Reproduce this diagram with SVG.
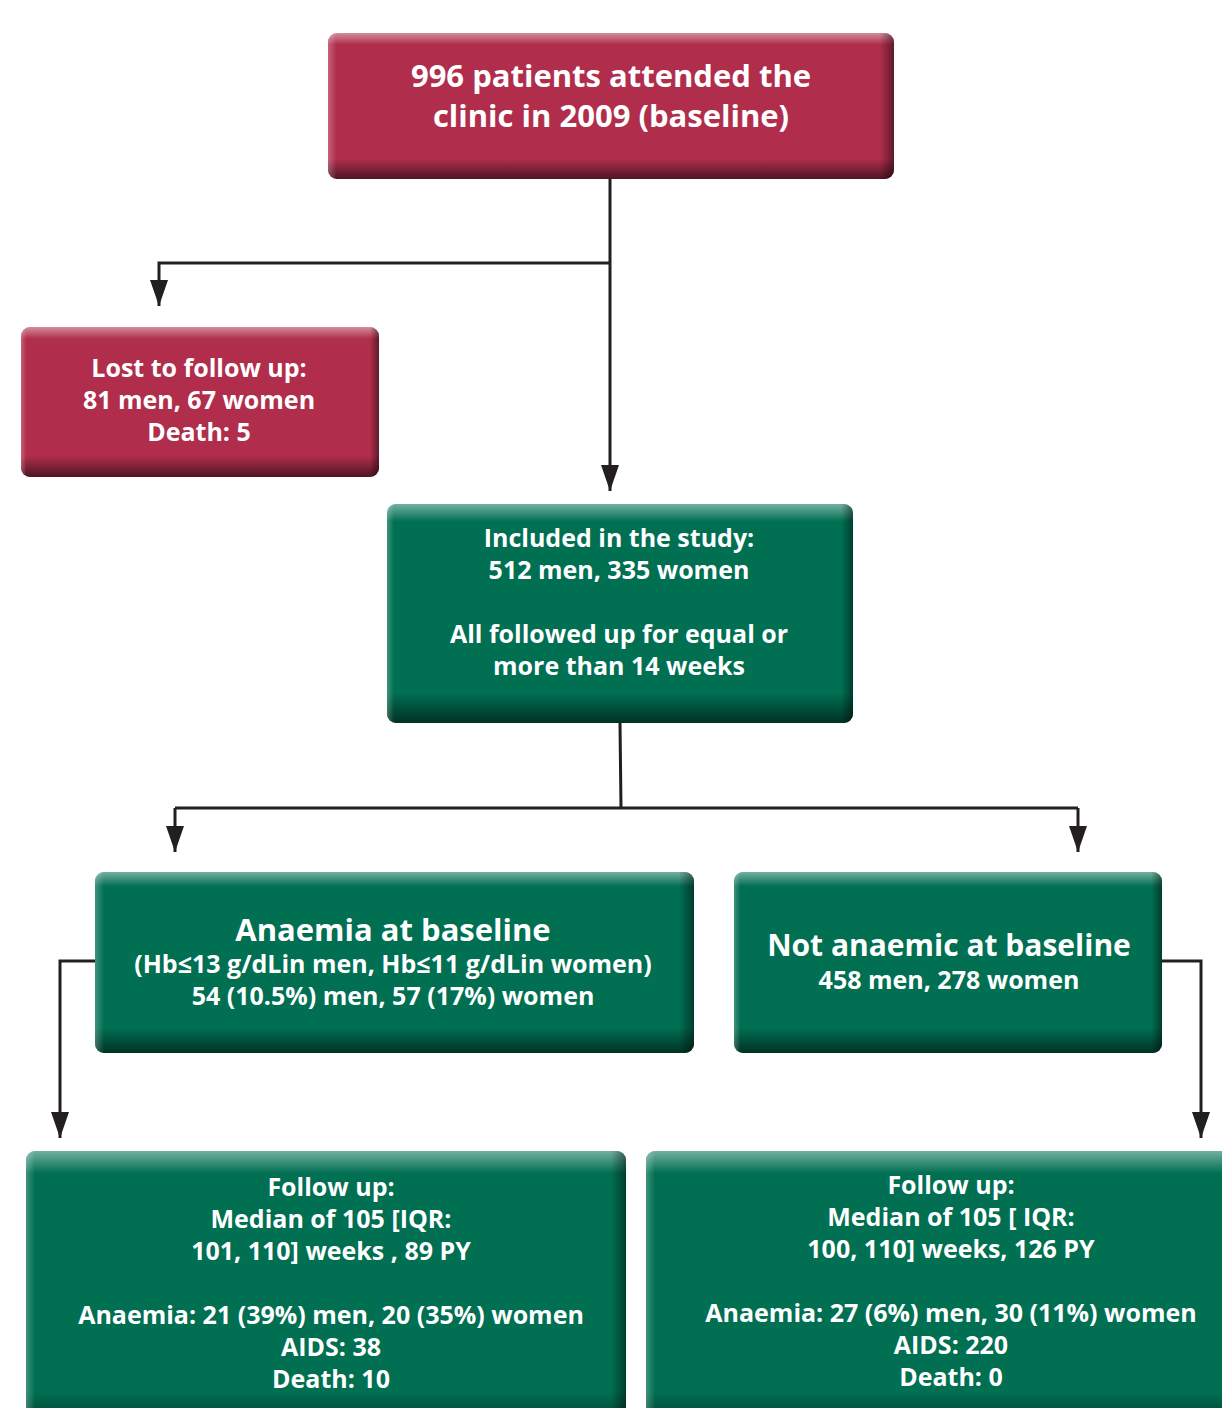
<svg xmlns="http://www.w3.org/2000/svg" width="1222" height="1408" viewBox="0 0 1222 1408">
<defs>
<linearGradient id="vs" x1="0" y1="0" x2="0" y2="1">
<stop offset="0" stop-color="#fff" stop-opacity="0.45"/>
<stop offset="0.08" stop-color="#fff" stop-opacity="0"/>
<stop offset="0.86" stop-color="#000" stop-opacity="0"/>
<stop offset="1" stop-color="#000" stop-opacity="0.55"/>
</linearGradient>
<linearGradient id="hs" x1="0" y1="0" x2="1" y2="0">
<stop offset="0" stop-color="#fff" stop-opacity="0.25"/>
<stop offset="0.015" stop-color="#fff" stop-opacity="0"/>
<stop offset="0.975" stop-color="#000" stop-opacity="0"/>
<stop offset="1" stop-color="#000" stop-opacity="0.45"/>
</linearGradient>
<marker id="ah" markerWidth="26" markerHeight="18" refX="26" refY="9" orient="auto" markerUnits="userSpaceOnUse" viewBox="0 0 26 18">
<path d="M0,0 L26,9 L0,18 Z" fill="#231f20"/>
</marker>
</defs>
<style>
.red{fill:#b02e4c}
.grn{fill:#006f52}
.vs{fill:url(#vs)}
.hs{fill:url(#hs)}
text{font-family:"Open Sans","Noto Sans","Liberation Sans",sans-serif;font-weight:700;fill:#fff;text-anchor:middle}
.t{font-size:31px}
.t2{font-size:30px}
.s{font-size:25px}
.c{fill:none;stroke:#231f20;stroke-width:3}
</style>
<rect width="1222" height="1408" fill="#fff"/>
<g id="connectors">
<path class="c" d="M610,179 V491" marker-end="url(#ah)"/>
<path class="c" d="M610,263 H159 V306" marker-end="url(#ah)"/>
<path class="c" d="M620,723 L621,808"/>
<path class="c" d="M175,808 H1078"/>
<path class="c" d="M175,808 V852" marker-end="url(#ah)"/>
<path class="c" d="M1078,808 V852" marker-end="url(#ah)"/>
<path class="c" d="M95,961 H60 V1138" marker-end="url(#ah)"/>
<path class="c" d="M1162,961 H1201 V1138" marker-end="url(#ah)"/>
</g>
<g id="n-baseline">
<rect class="red" x="328" y="33" width="566" height="146" rx="9"/>
<rect class="vs" x="328" y="33" width="566" height="146" rx="9"/>
<rect class="hs" x="328" y="33" width="566" height="146" rx="9"/>
<text class="t" x="611" y="87">996 patients attended the</text>
<text class="t" x="611" y="127">clinic in 2009 (baseline)</text>
</g>
<g id="n-lost">
<rect class="red" x="21" y="327" width="358" height="150" rx="9"/>
<rect class="vs" x="21" y="327" width="358" height="150" rx="9"/>
<rect class="hs" x="21" y="327" width="358" height="150" rx="9"/>
<text class="s" x="199" y="377">Lost to follow up:</text>
<text class="s" x="199" y="409">81 men, 67 women</text>
<text class="s" x="199" y="441">Death: 5</text>
</g>
<g id="n-included">
<rect class="grn" x="387" y="504" width="466" height="219" rx="9"/>
<rect class="vs" x="387" y="504" width="466" height="219" rx="9"/>
<rect class="hs" x="387" y="504" width="466" height="219" rx="9"/>
<text class="s" x="619" y="547">Included in the study:</text>
<text class="s" x="619" y="579">512 men, 335 women</text>
<text class="s" x="619" y="643">All followed up for equal or</text>
<text class="s" x="619" y="675">more than 14 weeks</text>
</g>
<g id="n-anaemia">
<rect class="grn" x="95" y="872" width="599" height="181" rx="9"/>
<rect class="vs" x="95" y="872" width="599" height="181" rx="9"/>
<rect class="hs" x="95" y="872" width="599" height="181" rx="9"/>
<text class="t" x="393" y="941">Anaemia at baseline</text>
<text class="s" x="393" y="973">(Hb≤13 g/dLin men, Hb≤11 g/dLin women)</text>
<text class="s" x="393" y="1005">54 (10.5%) men, 57 (17%) women</text>
</g>
<g id="n-notanaemic">
<rect class="grn" x="734" y="872" width="428" height="181" rx="9"/>
<rect class="vs" x="734" y="872" width="428" height="181" rx="9"/>
<rect class="hs" x="734" y="872" width="428" height="181" rx="9"/>
<text class="t2" x="949" y="956">Not anaemic at baseline</text>
<text class="s" x="949" y="989">458 men, 278 women</text>
</g>
<g id="n-follow-anaemic">
<rect class="grn" x="26" y="1151" width="600" height="280" rx="9"/>
<rect class="vs" x="26" y="1151" width="600" height="280" rx="9"/>
<rect class="hs" x="26" y="1151" width="600" height="280" rx="9"/>
<text class="s" x="331" y="1196">Follow up:</text>
<text class="s" x="331" y="1228">Median of 105 [IQR:</text>
<text class="s" x="331" y="1260">101, 110] weeks , 89 PY</text>
<text class="s" x="331" y="1324">Anaemia: 21 (39%) men, 20 (35%) women</text>
<text class="s" x="331" y="1356">AIDS: 38</text>
<text class="s" x="331" y="1388">Death: 10</text>
</g>
<g id="n-follow-notanaemic">
<rect class="grn" x="646" y="1151" width="600" height="280" rx="9"/>
<rect class="vs" x="646" y="1151" width="600" height="280" rx="9"/>
<rect class="hs" x="646" y="1151" width="600" height="280" rx="9"/>
<text class="s" x="951" y="1194">Follow up:</text>
<text class="s" x="951" y="1226">Median of 105 [ IQR:</text>
<text class="s" x="951" y="1258">100, 110] weeks, 126 PY</text>
<text class="s" x="951" y="1322">Anaemia: 27 (6%) men, 30 (11%) women</text>
<text class="s" x="951" y="1354">AIDS: 220</text>
<text class="s" x="951" y="1386">Death: 0</text>
</g>
</svg>
